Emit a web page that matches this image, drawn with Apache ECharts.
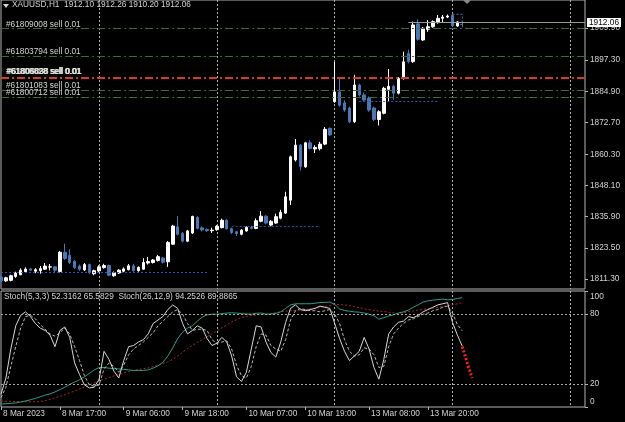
<!DOCTYPE html>
<html>
<head>
<meta charset="utf-8">
<script src="https://cdn.jsdelivr.net/npm/echarts@6/dist/echarts.min.js"></script>
<style>
html, body { margin: 0; padding: 0; background: #000; }
#chart { width: 625px; height: 422px; }
</style>
</head>
<body>
<div id="chart"></div>
<script>
// XAUUSD H1, 95 bars
const open = [1812.1,1810.6,1810.8,1812.3,1813.0,1814.2,1815.3,1814.4,1814.6,1815.2,
  1816.0,1816.1,1814.3,1821.8,1820.6,1818.3,1816.4,1814.9,1817.0,1813.4,
  1814.5,1815.8,1816.6,1812.6,1813.7,1814.4,1815.0,1816.5,1814.6,1815.2,
  1817.6,1817.8,1818.6,1819.6,1818.1,1825.0,1831.8,1829.3,1826.2,1829.4,
  1835.5,1831.4,1830.8,1830.3,1830.7,1831.5,1834.4,1831.1,1829.9,1828.9,
  1830.2,1831.6,1831.2,1834.0,1836.0,1832.5,1833.3,1835.2,1837.2,1842.3,
  1858.1,1863.9,1855.4,1864.8,1862.4,1862.5,1864.3,1870.5,1881.0,1884.8,
  1880.5,1878.5,1873.1,1887.5,1883.6,1882.3,1878.5,1874.0,1876.4,1885.8,
  1887.0,1884.3,1890.1,1899.9,1896.7,1911.5,1905.2,1909.4,1910.4,1912.0,
  1913.7,1914.2,1914.9,1910.7,1912.10];
const high = [1812.6,1812.2,1813.0,1814.2,1815.5,1815.9,1815.7,1815.6,1816.4,1817.6,
  1817.2,1816.5,1822.3,1825.2,1823.0,1818.8,1817.0,1817.6,1817.4,1815.0,
  1816.7,1817.3,1817.0,1814.3,1815.2,1815.9,1817.2,1817.3,1816.3,1819.5,
  1820.0,1819.2,1820.8,1820.0,1826.2,1832.6,1836.1,1829.8,1830.6,1836.2,
  1836.0,1832.0,1831.2,1831.5,1832.5,1835.0,1834.8,1831.5,1830.2,1830.9,
  1832.0,1832.2,1835.1,1838.0,1836.4,1834.5,1837.0,1838.5,1845.6,1859.8,
  1866.3,1864.3,1865.2,1865.8,1863.9,1865.2,1871.0,1870.9,1896.6,1890.0,
  1881.5,1879.0,1891.5,1888.0,1884.5,1883.0,1879.0,1877.6,1886.8,1893.8,
  1887.5,1890.6,1900.6,1901.4,1912.4,1913.3,1910.3,1913.0,1912.9,1915.0,
  1915.0,1915.2,1915.5,1912.6,1912.26];
const low = [1810.0,1810.2,1810.4,1811.8,1812.8,1813.9,1814.4,1813.6,1813.4,1814.9,
  1814.7,1813.6,1813.9,1818.8,1817.2,1815.2,1814.5,1814.5,1813.2,1812.8,
  1814.0,1815.4,1812.4,1812.2,1813.3,1814.0,1814.7,1814.2,1814.2,1814.9,
  1817.0,1817.4,1818.2,1817.4,1816.1,1824.7,1828.5,1825.7,1825.8,1829.0,
  1830.8,1830.0,1829.8,1829.4,1830.3,1831.2,1830.7,1829.0,1828.2,1828.5,
  1829.9,1830.8,1830.9,1833.6,1832.8,1832.0,1833.0,1834.8,1836.9,1840.4,
  1857.5,1854.0,1855.0,1862.2,1860.8,1861.8,1863.9,1867.4,1880.5,1879.0,
  1877.0,1872.5,1872.6,1883.0,1881.0,1877.0,1873.4,1871.6,1876.0,1881.0,
  1881.6,1883.8,1889.6,1896.0,1896.2,1905.0,1904.8,1908.4,1910.0,1911.6,
  1912.0,1913.8,1910.3,1910.4,1910.20];
const close = [1810.6,1811.8,1812.6,1813.6,1814.8,1815.2,1814.8,1815.0,1815.4,1816.4,
  1816.1,1814.8,1821.8,1819.4,1817.8,1815.8,1815.2,1817.0,1813.8,1814.6,
  1816.1,1816.6,1812.8,1813.8,1814.8,1815.3,1816.5,1814.6,1815.9,1817.8,
  1818.2,1818.8,1820.1,1817.9,1825.7,1832.1,1828.9,1826.2,1830.2,1835.9,
  1831.2,1830.6,1830.3,1830.5,1832.0,1834.4,1831.1,1829.6,1829.2,1830.5,
  1831.6,1831.2,1834.2,1836.0,1833.3,1834.0,1835.8,1837.5,1843.6,1859.3,
  1863.9,1855.5,1864.8,1862.6,1863.0,1864.3,1870.1,1867.9,1884.8,1879.6,
  1877.7,1873.1,1887.5,1883.6,1881.6,1877.7,1874.0,1877.0,1886.2,1887.0,
  1884.3,1890.1,1896.6,1896.7,1911.1,1905.5,1909.8,1910.4,1912.4,1913.7,
  1914.2,1914.6,1910.8,1912.3,1912.06];

// Stochastic(5,3,3) and Stochastic(26,12,9)
const stoch5Main = [11,25,50,70,79,82,78,72,68,66, 62,52,66,69,60,38,28,19,16.5,17,
  24,48,41,31,25,40,52,53,56,58, 63,72,75,78,84,88,85,72,63,66,
  70,68,59,53,55,60,56,44,26,22, 30,50,70,69,56,47,43,56,73,85,
  88,84,83,84,85,87,86,85,72,59, 48,40,44,48,60,50,34,24,41,63,
  69,73,74,78,77,79,82,84,86,88, 89,90,73,62,52.3162];
const stoch5Signal = [8,17,35,52,68,78,79,76,71,67, 63,61,64,68,63,52,40,27,19,18,
  19,33,38,35,30,36,45,50,53,56, 60,64,70,74,78,82,84,80,72,66,
  67,67,66,58,55,56,57,50,36,27, 25,35,52,63,62,53,50,48,58,75,
  83,85,84,83,83,82,83,84,80,72, 58,48,44,45,51,50,45,34,35,52,
  63,68,72,75,76,78,80,81,83,84, 86,87,81,71,65.5829];
const stoch26Main = [2.5,2.8,3.2,3.5,4.3,5.2,6.2,7.5,8.8,10.2, 11.3,13,15,17,19.5,21.5,23.5,26,29,32,
  34,34,33.5,33,32.8,32.5,32,31.5,31.5,31.5, 32,33.5,35.5,38.5,44,51,59,64.5,68,70,
  74,77.5,79.4,80,80,80.5,81,81.2,81,80.5, 80.2,80,80.8,81,80,80.2,80.6,82,85,88,
  89,89,89,89,89.5,90,90.2,90.4,88.5,84.5, 83.2,82.6,82,81.7,81,80,78.6,75.7,77,78.5,
  79.5,81,82,83.5,86,88,90.5,91.5,92.1,92.6, 93,92.4,92.8,93.5,94.2526];
const stoch26Signal = [5,4.9,4.8,4.7,4.6,4.6,4.5,4.5,4.6,5.5, 6.5,7.8,9.2,10.6,12.2,13.8,15.5,17.2,19,20.8,
  22.4,24,25.5,26.8,28,29.3,30.5,31.5,32.3,33, 33.7,34.8,36.1,37.4,39,41.3,44,47.3,50.2,53.2,
  55.5,58,60.6,63.2,65.6,68.2,70.8,73.3,75.3,77, 78.2,78.8,79.3,79.7,80,80.6,81.3,82.1,82.6,83,
  83.3,83.6,84.1,84.6,85.2,85.8,86.6,87.6,88.5,88.4, 88,87.4,86.6,85.7,84.7,83.9,83.2,82.7,82.3,81.7,
  81.1,80.7,81.3,82.1,82.8,83.5,84.1,84.6,85.2,85.9, 86.6,87.2,88,89,89.8865];
// red dots after the last bar (bar index, value)
const projIdx = [94, 95, 96];
const projVal = [52, 38, 25];

// tick labels
const priceTicks = [1811.30, 1823.50, 1835.90, 1848.10, 1860.30, 1872.70, 1884.90, 1897.30, 1909.90];
const stochTicks = [0, 20, 80, 100];
const timeTicks = ['8 Mar 17:00', '9 Mar 06:00', '9 Mar 18:00', '10 Mar 07:00', '10 Mar 19:00', '13 Mar 08:00', '13 Mar 20:00'];
const firstLabel = '8 Mar 2023';

// trade levels
const orderTickets = ['#61809008', '#61803794', '#61801083', '#61800712'];
const orderPrices = [1909.8, 1899.0, 1885.55, 1882.9];
const redTickets = ['#61808828', '#61806898', '#61809038'];
const redPrice = 1890.4;
const orderLot = 'sell 0.01';
// blue dotted levels: [from bar, to bar, price]
const levelSegs = [[0, 42, 1813.96], [47, 65, 1831.87], [73, 89, 1880.96]];
const bidPrice = 1912.06;
const bidFrom = 83;
// dotted box round the last bars: [from bar, to bar, top, bottom]
const lastBox = [92, 94, 1915.3, 1911.3];

// bar times (hourly, weekend skipped)
const barTimes = [];
[['8 Mar', 5], ['9 Mar', 0], ['10 Mar', 0], ['13 Mar', 0], ['14 Mar', 0], ['15 Mar', 0]].forEach(([d, h0]) => {
  for (let h = h0; h < 24; h++) barTimes.push(d + ' ' + String(h).padStart(2, '0') + ':00');
});
barTimes.length = 120;

const FONT = 'Liberation Sans';
const FS = 8.3;
const FG = '#d4d4d4';
const GRIDC = '#b4b4b4';
const n = close.length;
const last = n - 1;

const candleData = open.map((o, i) => [o, close[i], low[i], high[i]]);
const pad = arr => arr.concat(new Array(barTimes.length - arr.length).fill('-'));
const projData = barTimes.map((_, i) => {
  const k = projIdx.indexOf(i);
  return k >= 0 ? projVal[k] : '-';
});

const vGrid = {
  show: true,
  interval: i => i >= 20 && (i - 20) % 24 === 0,
  lineStyle: { color: '#b0b0b0', type: [2, 2], width: 1 }
};

const orderLines = orderTickets.map((t, i) => ({
  yAxis: orderPrices[i],
  lineStyle: { color: '#3f6a3f', type: [8, 3, 2, 3], width: 1 },
  label: { show: true, position: 'insideStartTop', distance: [5, 0], formatter: t + ' ' + orderLot,
    color: FG, fontFamily: FONT, fontSize: FS }
}));
const redLines = redTickets.map((t, i) => ({
  yAxis: redPrice,
  lineStyle: { color: '#d2401e', type: [8, 3, 2, 3], width: 2 },
  label: { show: true, position: 'insideStartTop', distance: [5 + i * 0.6, 2], formatter: t + ' ' + orderLot,
    color: '#e8e8e8', fontFamily: FONT, fontSize: FS }
}));
const segLines = levelSegs.map(s => [
  { coord: [barTimes[s[0]], s[2]] },
  { coord: [barTimes[s[1]], s[2]] }
]);
const bidLine = [
  { coord: [barTimes[bidFrom], bidPrice] },
  { coord: [barTimes[barTimes.length - 1], bidPrice],
    label: { show: true, position: 'end', distance: 2, formatter: bidPrice.toFixed(2),
      color: '#000', backgroundColor: '#fff', padding: [1, 2, 0, 2], fontFamily: FONT, fontSize: FS } }
];

const option = {
  backgroundColor: '#000',
  animation: false,
  grid: [
    { left: 1, top: 0, width: 584, height: 289, show: true, borderColor: GRIDC, borderWidth: 1, backgroundColor: 'transparent' },
    { left: 1, top: 291, width: 584, height: 116, show: true, borderColor: GRIDC, borderWidth: 1, backgroundColor: 'transparent' }
  ],
  xAxis: [
    { type: 'category', gridIndex: 0, data: barTimes, boundaryGap: false,
      axisLine: { show: false }, axisTick: { show: false }, axisLabel: { show: false }, splitLine: vGrid },
    { type: 'category', gridIndex: 1, data: barTimes, boundaryGap: false,
      axisLine: { show: false },
      axisTick: { show: true, length: 3, interval: (i, v) => i === 0 || timeTicks.includes(v), lineStyle: { color: GRIDC } },
      axisLabel: { show: true, interval: (i, v) => i === 0 || timeTicks.includes(v),
        formatter: (v, i) => i === 0 ? firstLabel : v,
        align: 'left', margin: 3, padding: [0, 0, 0, 2], color: FG, fontFamily: FONT, fontSize: FS },
      splitLine: vGrid }
  ],
  yAxis: [
    { type: 'value', gridIndex: 0, position: 'right', min: 1807.4, max: 1920.9, scale: true,
      axisLine: { show: false },
      axisTick: { show: true, length: 3, customValues: priceTicks, lineStyle: { color: GRIDC } },
      axisLabel: { customValues: priceTicks, formatter: v => v.toFixed(2), margin: 5,
        color: FG, fontFamily: FONT, fontSize: FS },
      splitLine: { show: false } },
    { type: 'value', gridIndex: 1, position: 'right', min: 0, max: 100,
      axisLine: { show: false },
      axisTick: { show: true, length: 3, customValues: stochTicks, lineStyle: { color: GRIDC } },
      axisLabel: { customValues: stochTicks, margin: 5, color: FG, fontFamily: FONT, fontSize: FS,
        formatter: v => v === 100 ? '{t|100}' : v === 0 ? '{b|0}' : String(v),
        rich: { t: { padding: [11, 0, 0, 0] }, b: { padding: [0, 0, 11, 0] } } },
      splitLine: { show: false } }
  ],
  series: [
    { type: 'candlestick', xAxisIndex: 0, yAxisIndex: 0, data: candleData, barWidth: 3,
      itemStyle: { color: '#ffffff', color0: '#4a78b4', borderColor: '#ffffff', borderColor0: '#4a78b4', borderWidth: 1 },
      markLine: { silent: true, symbol: 'none', animation: false,
        data: orderLines.concat(redLines) },
      markArea: { silent: true,
        itemStyle: { color: 'transparent', borderColor: '#5a78b8', borderWidth: 1, borderType: [2, 2] },
        data: [[{ coord: [barTimes[lastBox[0]], lastBox[2]] }, { coord: [barTimes[lastBox[1]], lastBox[3]] }]] } },
    { type: 'line', xAxisIndex: 0, yAxisIndex: 0, data: [], silent: true,
      markLine: { silent: true, symbol: 'none', animation: false, label: { show: false },
        lineStyle: { color: '#3355bb', type: [2, 2], width: 1 }, data: segLines } },
    { type: 'line', xAxisIndex: 0, yAxisIndex: 0, data: [], silent: true,
      markLine: { silent: true, symbol: 'none', animation: false, label: { show: false },
        lineStyle: { color: '#9a9a9a', type: 'solid', width: 1 }, data: [bidLine] } },
    { name: 'stoch26Signal', type: 'line', xAxisIndex: 1, yAxisIndex: 1, data: pad(stoch26Signal), showSymbol: false,
      lineStyle: { color: '#b02828', width: 1, type: [2, 2] } },
    { name: 'stoch26Main', type: 'line', xAxisIndex: 1, yAxisIndex: 1, data: pad(stoch26Main), showSymbol: false,
      lineStyle: { color: '#2f9e8c', width: 1 } },
    { name: 'stoch5Signal', type: 'line', xAxisIndex: 1, yAxisIndex: 1, data: pad(stoch5Signal), showSymbol: false,
      lineStyle: { color: '#b8b8b8', width: 1, type: [3, 2] } },
    { name: 'stoch5Main', type: 'line', xAxisIndex: 1, yAxisIndex: 1, data: pad(stoch5Main), showSymbol: false,
      lineStyle: { color: '#d8d8d8', width: 1 },
      markLine: { silent: true, symbol: 'none', animation: false, label: { show: false },
        lineStyle: { color: '#a8a8a8', type: [2, 2], width: 1 }, data: [{ yAxis: 80 }, { yAxis: 20 }] } },
    { name: 'proj', type: 'line', xAxisIndex: 1, yAxisIndex: 1, data: projData, showSymbol: false,
      lineStyle: { color: '#ff2020', width: 3, type: [2, 2] } }
  ],
  graphic: [
    { type: 'polygon', shape: { points: [[3, 4], [9, 4], [6, 8]] }, style: { fill: FG } },
    { type: 'text', left: 12, top: 1, style: {
      text: 'XAUUSD,H1  ' + [open[last], high[last], low[last], close[last]].map(v => v.toFixed(2)).join(' '),
      fill: FG, font: FS + 'px ' + FONT } },
    { type: 'text', left: 4, top: 293, style: {
      text: 'Stoch(5,3,3) ' + stoch5Main[last].toFixed(4) + ' ' + stoch5Signal[last].toFixed(4) +
        '  Stoch(26,12,9) ' + stoch26Main[last].toFixed(4) + ' ' + stoch26Signal[last].toFixed(4),
      fill: FG, font: FS + 'px ' + FONT } },
    { type: 'polygon', shape: { points: [[463, 0], [471, 0], [467, 4]] }, style: { fill: '#8a8a8a' } }
  ]
};

const chart = echarts.init(document.getElementById('chart'));
chart.setOption(option);
</script>
</body>
</html>
